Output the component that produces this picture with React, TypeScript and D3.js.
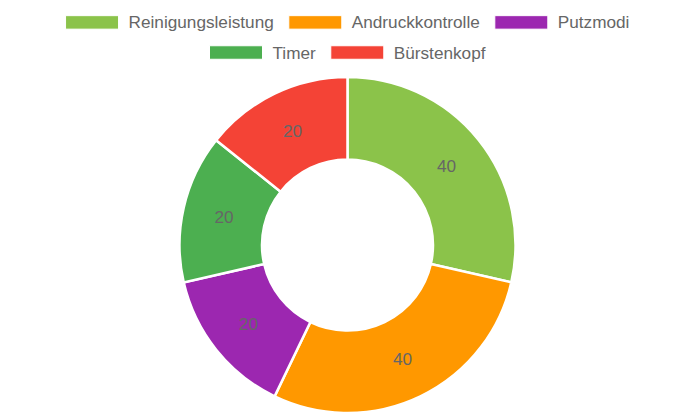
import React, { useMemo } from "react";
import * as d3 from "d3";

const labels = ["Reinigungsleistung", "Andruckkontrolle", "Putzmodi", "Timer", "Bürstenkopf"];
const values = [40, 40, 20, 20, 20];
const colors = ["#8BC34A", "#FF9800", "#9C27B0", "#4CAF50", "#F44336"];
const legendRows = [[0, 1, 2], [3, 4]];

const W = 695;
const H = 417;
const FONT = '"Liberation Sans", Arial, Helvetica, sans-serif';
const FONT_SIZE = 17.2;

export default function App() {
  const cx = 347.5;
  const cy = 245;
  const outerR = 168;
  const innerR = 85.5;

  const pie = d3.pie<number>().sort(null).value((d) => d)(values);
  const arc = d3.arc<d3.PieArcDatum<number>>().innerRadius(innerR).outerRadius(outerR);

  const measure = useMemo(() => {
    const c = document.createElement("canvas").getContext("2d")!;
    c.font = `${FONT_SIZE}px ${FONT}`;
    return (t: string) => c.measureText(t).width;
  }, []);

  const boxW = 53;
  const boxH = 13.5;
  const gapBT = 10;
  const gapItem = 15;
  const rowCenters = [22.4, 52.5];

  const legend = legendRows.map((row, ri) => {
    const widths = row.map((i) => boxW + gapBT + measure(labels[i]));
    const total = widths.reduce((a, b) => a + b, 0) + gapItem * (row.length - 1);
    let x = W / 2 - total / 2;
    return row.map((i, k) => {
      const item = { i, x, y: rowCenters[ri] };
      x += widths[k] + gapItem;
      return item;
    });
  }).flat();

  return (
    <svg width={W} height={H} style={{ position: "absolute", left: 0, top: 0 }} fontFamily={FONT}>
      <rect width={W} height={H} fill="#fff" />
      <g>
        {legend.map(({ i, x, y }) => (
          <g key={labels[i]}>
            <rect x={x} y={y - boxH / 2} width={boxW} height={boxH} fill={colors[i]} stroke="#fff" strokeWidth={1} />
            <text x={x + boxW + gapBT} y={y + 6} fontSize={FONT_SIZE} fill="#666">
              {labels[i]}
            </text>
          </g>
        ))}
      </g>
      <g transform={`translate(${cx},${cy})`}>
        {pie.map((d, i) => (
          <path key={i} d={arc(d) || ""} fill={colors[i]} stroke="#fff" strokeWidth={2.5} strokeLinejoin="miter" />
        ))}
        {pie.map((d, i) => {
          const [x, y] = arc.centroid(d);
          return (
            <text key={"t" + i} x={x} y={y + 6} textAnchor="middle" fontSize={FONT_SIZE} fill="#666">
              {values[i]}
            </text>
          );
        })}
      </g>
    </svg>
  );
}
